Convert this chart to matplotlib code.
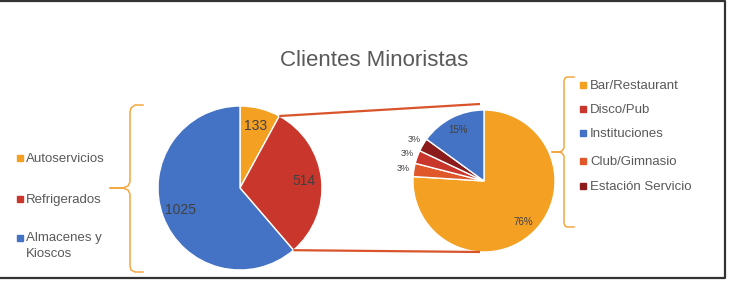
import numpy as np
import matplotlib
matplotlib.use('Agg')
import matplotlib.pyplot as plt

plt.rcParams['font.family'] = ['Liberation Sans', 'DejaVu Sans']

# datos
titulo = 'Clientes Minoristas'
cat_principal = ['Autoservicios', 'Refrigerados', 'Almacenes y\nKioscos']
val_principal = [133, 514, 1025]
col_principal = ['#F4A023', '#C9372C', '#4472C4']

# desglose de Refrigerados (orden horario del pastel)
cat_detalle = ['Bar/Restaurant', 'Club/Gimnasio', 'Disco/Pub', 'Estación Servicio', 'Instituciones']
pct_detalle = [76, 3, 3, 3, 15]
col_detalle = ['#F4A023', '#E0582A', '#C9372C', '#8C1C1C', '#4472C4']
orden_leyenda = ['Bar/Restaurant', 'Disco/Pub', 'Instituciones', 'Club/Gimnasio', 'Estación Servicio']

W, H = 731, 282
fig = plt.figure(figsize=(W / 100, H / 100), dpi=100)
ax = fig.add_axes([0, 0, 1, 1])


def py(y):
    # pixeles desde arriba -> coordenada de datos
    return H - y


gris = '#595959'
c1, r1 = (240, py(188)), 82
c2, r2 = (484, py(181)), 71
total = sum(val_principal)

w1, _, a1 = ax.pie(val_principal, colors=col_principal, startangle=90, counterclock=False,
                   center=c1, radius=r1, wedgeprops=dict(edgecolor='white', linewidth=1),
                   autopct=lambda p: f'{p * total / 100:.0f}', pctdistance=0.78,
                   textprops=dict(color='#404040', fontsize=10))

w2, _, a2 = ax.pie(pct_detalle, colors=col_detalle, startangle=90, counterclock=False,
                   center=c2, radius=r2, wedgeprops=dict(edgecolor='white', linewidth=1),
                   autopct='%.0f%%', pctdistance=0.8,
                   textprops=dict(color='#404040', fontsize=7))

# etiquetas pequeñas fuera del pastel
for w, t, p in zip(w2, a2, pct_detalle):
    if p < 5:
        ang = np.deg2rad((w.theta1 + w.theta2) / 2)
        t.set_position((c2[0] + 1.15 * r2 * np.cos(ang), c2[1] + 1.15 * r2 * np.sin(ang)))
        t.set_fontsize(6.5)

# lineas de conexion
ang_a = np.deg2rad(w1[0].theta1)
ang_b = np.deg2rad(w1[1].theta1)
lc = '#D9542B'
ax.plot([c1[0] + r1 * np.cos(ang_a), c2[0] - 4], [c1[1] + r1 * np.sin(ang_a), c2[1] + r2 + 6],
        color=lc, lw=1.6, solid_capstyle='butt')
ax.plot([c1[0] + r1 * np.cos(ang_b), c2[0] - 4], [c1[1] + r1 * np.sin(ang_b), c2[1] - r2],
        color=lc, lw=1.6, solid_capstyle='butt')

# llaves
bc = '#F3A843'
lx = [143, 135, 131, 130, 130, 128, 123, 110, 123, 128, 130, 130, 131, 135, 143]
ly = [105, 105, 108, 112, 182, 186, 188, 188, 188, 190, 194, 266, 270, 272, 272]
ax.plot(lx, [py(v) for v in ly], color=bc, lw=1.1)
rx = [574, 567, 565, 564, 564, 562, 558, 552, 558, 562, 564, 564, 565, 567, 574]
ry = [77, 77, 78, 81, 148, 151, 152, 152, 152, 153, 156, 223, 226, 227, 227]
ax.plot(rx, [py(v) for v in ry], color=bc, lw=1.1)

# leyenda izquierda
for cat, col, yy in zip(cat_principal, col_principal, [158, 199, 238]):
    ax.plot(20, py(yy), 's', color=col, markersize=3.8)
    ax.text(26, py(yy - 5.5), cat, color=gris, fontsize=9.5, va='top', ha='left', linespacing=1.4)

# leyenda derecha
for cat, yy in zip(orden_leyenda, [85, 109, 133, 161, 186]):
    col = col_detalle[cat_detalle.index(cat)]
    ax.plot(583, py(yy), 's', color=col, markersize=3.8)
    ax.text(590, py(yy + 1), cat, color=gris, fontsize=9.5, va='center', ha='left')

ax.text(374, py(60), titulo, color=gris, fontsize=16, ha='center', va='center')

# marco
ax.plot([-10, 725, 725, -10], [py(1), py(1), py(278), py(278)], color='#333333', lw=1.6)

ax.set_xlim(0, W)
ax.set_ylim(0, H)
ax.set_aspect('auto')
ax.axis('off')

fig.savefig('out.png', dpi=100)
